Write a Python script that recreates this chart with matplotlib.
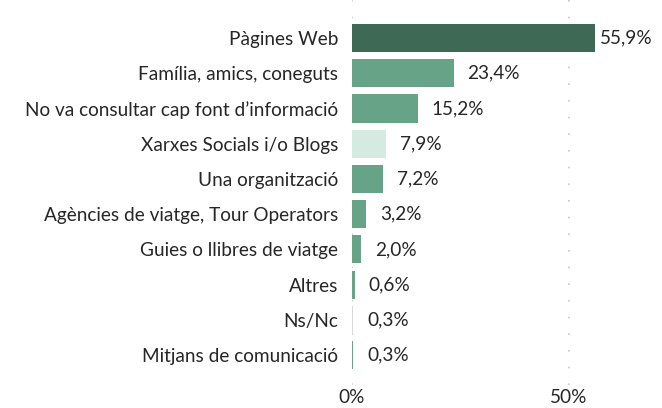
import matplotlib.pyplot as plt

plt.rcParams['font.family'] = ['Lato', 'DejaVu Sans']

# Data
categories = ["Pàgines Web", "Família, amics, coneguts", "No va consultar cap font d\u2019informació",
              "Xarxes Socials i/o Blogs", "Una organització", "Agències de viatge, Tour Operators",
              "Guies o llibres de viatge", "Altres", "Ns/Nc", "Mitjans de comunicació"]
values = [55.9, 23.4, 15.2, 7.9, 7.2, 3.2, 2.0, 0.6, 0.3, 0.3]
labels = ["55,9%", "23,4%", "15,2%", "7,9%", "7,2%", "3,2%", "2,0%", "0,6%", "0,3%", "0,3%"]
colors = ["#3e6954", "#67a386", "#67a386", "#d5ebe1", "#67a386", "#67a386",
          "#67a386", "#67a386", "#d9d9d9", "#67a386"]

fs = 13.7
fig = plt.figure(figsize=(6.62, 4.08), dpi=100)
ax = fig.add_axes([352 / 662, 23 / 408, 304 / 662, 385 / 408])

y = range(len(values))
ax.barh(y, values, height=0.8, color=colors, zorder=2)
for i, (v, lab) in enumerate(zip(values, labels)):
    ax.text(min(v + 3.2, 57.0), i, lab, va='center', ha='left', fontsize=fs, color='#262626')

ax.set_yticks(list(y))
ax.set_yticklabels(categories, fontsize=fs, color='#262626')
ax.set_ylim(9.85, -1.08)
ax.set_xlim(0, 70)
ax.set_xticks([0, 50])
ax.set_xticklabels(["0%", "50%"], fontsize=fs, color='#262626')
ax.tick_params(length=0, pad=10)
ax.tick_params(axis='x', pad=3)
ax.grid(axis='x', color='#c8c8c8', linestyle=(0, (1, 9)), linewidth=1.2, zorder=0)
for s in ax.spines.values():
    s.set_visible(False)

fig.savefig("out.png", dpi=100)
